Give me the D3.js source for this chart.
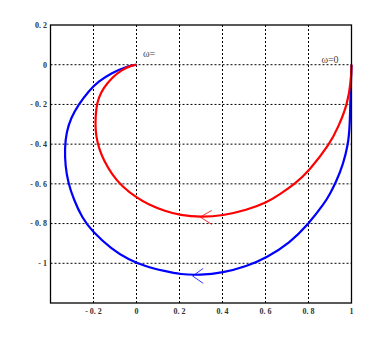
<!DOCTYPE html>
<html><head><meta charset="utf-8">
<script src="https://cdn.jsdelivr.net/npm/d3@7"></script>
<style>html,body{margin:0;padding:0;background:#fff;}svg{display:block;}</style>
</head><body>
<script>
const xTicks = [-0.2, 0, 0.2, 0.4, 0.6, 0.8, 1];
const xTickLabels = ["- 0. 2", "0", "0. 2", "0. 4", "0. 6", "0. 8", "1"];
const yTicks = [0.2, 0, -0.2, -0.4, -0.6, -0.8, -1];
const yTickLabels = ["0. 2", "0", "- 0. 2", "- 0. 4", "- 0. 6", "- 0. 8", "- 1"];

// red curve (x = Re, y = Im)
const redRe = [1.0, 0.998, 0.981, 0.940, 0.899, 0.801, 0.740, 0.667, 0.605, 0.512, 0.401, 0.300, 0.203, 0.133, 0.056, 0.0, -0.068, -0.114, -0.153, -0.175, -0.188, -0.192, -0.188, -0.176, -0.153, -0.114, -0.068, -0.025, 0];
const redIm = [0, -0.08, -0.2, -0.31, -0.40, -0.536, -0.598, -0.653, -0.695, -0.732, -0.760, -0.768, -0.758, -0.738, -0.704, -0.67, -0.612, -0.553, -0.480, -0.420, -0.360, -0.300, -0.217, -0.166, -0.116, -0.065, -0.026, -0.004, 0];
// blue curve
const blueRe = [1, 0.996, 0.992, 0.984, 0.961, 0.930, 0.899, 0.876, 0.798, 0.713, 0.605, 0.512, 0.401, 0.296, 0.203, 0.133, 0.040, -0.037, -0.114, -0.207, -0.253, -0.292, -0.318, -0.331, -0.334, -0.326, -0.305, -0.269, -0.223, -0.176, -0.114, -0.052, -0.014, 0];
const blueIm = [0, -0.133, -0.317, -0.402, -0.502, -0.586, -0.653, -0.695, -0.805, -0.897, -0.972, -1.015, -1.048, -1.060, -1.056, -1.040, -1.015, -0.981, -0.930, -0.838, -0.771, -0.679, -0.594, -0.511, -0.420, -0.340, -0.268, -0.200, -0.133, -0.083, -0.040, -0.012, -0.002, 0];

// arrow heads: tip and the two arm ends
const redArrow = [[0.350, -0.734], [0.296, -0.767], [0.350, -0.804]];
const blueArrow = [[0.310, -1.026], [0.261, -1.064], [0.310, -1.101]];

const labels = [{t: "ω=", x: 0.03, y: 0.04}, {t: "ω=0", x: 0.86, y: 0.01}];

const W = 390, H = 343;
const m = {l: 50.5, r: 390 - 351.5, t: 25, b: 343 - 303};
const svg = d3.select("body").append("svg").attr("width", W).attr("height", H);
const x = d3.scaleLinear().domain([-0.4, 1]).range([m.l, W - m.r]);
const y = d3.scaleLinear().domain([-1.2, 0.2]).range([H - m.b, m.t]);

// grid
const g = svg.append("g");
g.selectAll(".gx").data(xTicks.filter(v => v < 1)).enter().append("line")
  .attr("x1", d => x(d)).attr("x2", d => x(d)).attr("y1", y(0.2)).attr("y2", y(-1.2))
  .attr("stroke", "#000").attr("stroke-width", 1).attr("stroke-dasharray", "2,2");
g.selectAll(".gy").data(yTicks.filter(v => v < 0.2)).enter().append("line")
  .attr("y1", d => y(d)).attr("y2", d => y(d)).attr("x1", x(-0.4)).attr("x2", x(1))
  .attr("stroke", "#000").attr("stroke-width", 1).attr("stroke-dasharray", "2,2");

const line = d3.line().x(d => x(d[0])).y(d => y(d[1]));
const blue = blueRe.map((v, i) => [v, blueIm[i]]);
const red = redRe.map((v, i) => [v, redIm[i]]);
svg.append("path").attr("d", line.curve(d3.curveBasis)(blue)).attr("fill", "none").attr("stroke", "#0000ff").attr("stroke-width", 2.2);
svg.append("path").attr("d", line.curve(d3.curveLinear)(blueArrow)).attr("fill", "none").attr("stroke", "#0000ff").attr("stroke-width", 0.8);
svg.append("path").attr("d", line.curve(d3.curveBasis)(red)).attr("fill", "none").attr("stroke", "#ff0000").attr("stroke-width", 2.2);
svg.append("path").attr("d", line.curve(d3.curveLinear)(redArrow)).attr("fill", "none").attr("stroke", "#ff0000").attr("stroke-width", 0.8);

// frame
svg.append("rect").attr("x", x(-0.4)).attr("y", y(0.2)).attr("width", x(1) - x(-0.4)).attr("height", y(-1.2) - y(0.2))
  .attr("fill", "none").attr("stroke", "#000").attr("stroke-width", 1.3);

// tick labels
svg.selectAll(".yl").data(yTicks).enter().append("text")
  .attr("x", m.l - 3.5).attr("y", d => y(d)).attr("dy", "0.35em").attr("text-anchor", "end")
  .attr("font-family", "Liberation Serif, serif").attr("font-size", 8).attr("font-weight", "bold").attr("fill", "#333")
  .text((d, i) => yTickLabels[i]);
svg.selectAll(".xl").data(xTicks).enter().append("text")
  .attr("x", d => x(d)).attr("y", y(-1.2) + 11).attr("text-anchor", "middle")
  .attr("font-family", "Liberation Serif, serif").attr("font-size", 8).attr("font-weight", "bold").attr("fill", "#333")
  .text((d, i) => xTickLabels[i]);

// annotations
svg.selectAll(".ann").data(labels).enter().append("text")
  .attr("x", d => x(d.x)).attr("y", d => y(d.y)).attr("font-family", "Liberation Serif, serif")
  .attr("font-size", 10).attr("fill", "#444").text(d => d.t);
</script>
</body></html>
